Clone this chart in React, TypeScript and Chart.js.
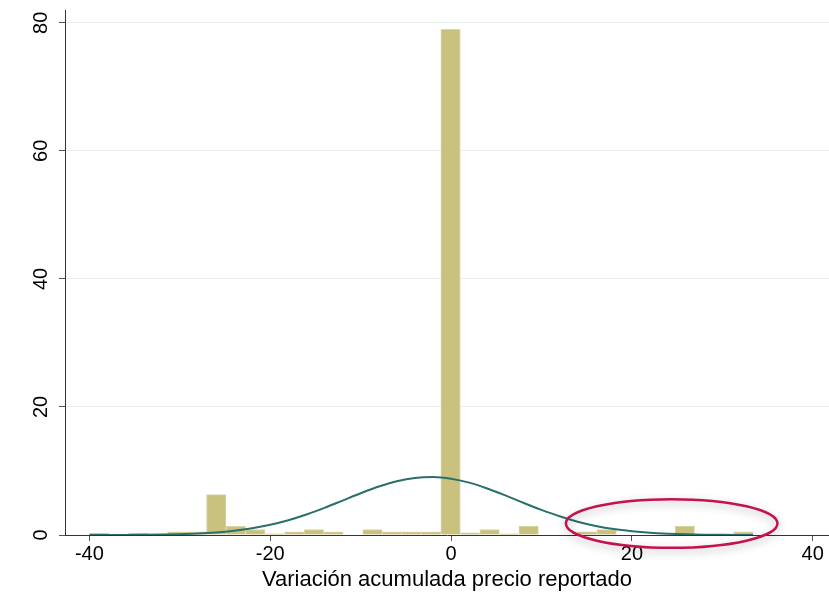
import React, { useEffect, useRef } from "react";
import { Chart, registerables } from "chart.js";

Chart.register(...registerables);

// Histogram bins (width ≈ 2.159, starting at -40): bin centres and percent heights
const binCenters = [
  -38.92, -36.76, -34.6, -32.44, -30.28, -28.12, -25.97, -23.81, -21.65, -19.49,
  -17.33, -15.17, -13.01, -10.85, -8.69, -6.53, -4.38, -2.22, -0.06, 2.1,
  4.26, 6.42, 8.58, 10.74, 12.9, 15.06, 17.21, 19.37, 21.53, 23.69,
  25.85, 28.01, 30.17, 32.33,
];
const binPercent = [
  0.3, 0, 0.3, 0, 0.5, 0.5, 6.3, 1.35, 0.85, 0.2,
  0.5, 0.85, 0.5, 0, 0.85, 0.5, 0.5, 0.5, 79, 0.35,
  0.85, 0.2, 1.4, 0, 0, 0.5, 0.85, 0, 0, 0,
  1.4, 0, 0, 0.5,
];

// Normal-density overlay
const curveX = [
  -40, -38, -36, -34, -32, -30, -28, -26, -24, -22, -20, -18, -16, -14, -12, -10,
  -8, -6, -4, -2, 0, 2, 4, 6, 8, 10, 12, 14, 16, 18, 20, 22, 24, 26, 28, 30, 32, 33.4,
];
const curveY = [
  0.003, 0.008, 0.017, 0.035, 0.068, 0.13, 0.23, 0.4, 0.67, 1.06, 1.6, 2.31, 3.2, 4.24,
  5.38, 6.52, 7.57, 8.4, 8.92, 9.06, 8.8, 8.18, 7.27, 6.19, 5.03, 3.92, 2.92, 2.08,
  1.42, 0.92, 0.58, 0.34, 0.2, 0.11, 0.056, 0.028, 0.013, 0.008,
];

const xTicks = [-40, -20, 0, 20, 40];
const yTicks = [0, 20, 40, 60, 80];
const xTitle = "Variación acumulada precio reportado";

// Highlight ellipse (data units): centre x, centre y, radius x, radius y
const highlightEllipse = [24.4, 1.8, 11.7, 3.8];

const FONT = "'Liberation Sans', Arial, Helvetica, sans-serif";

export default function App() {
  const ref = useRef<HTMLCanvasElement>(null);

  useEffect(() => {
    if (!ref.current) return;
    const ellipsePlugin = {
      id: "highlightEllipse",
      afterDraw(chart: any) {
        const { ctx } = chart;
        const x = chart.scales.x;
        const y = chart.scales.y;
        const [ecx, ecy, erx, ery] = highlightEllipse;
        const cx = x.getPixelForValue(ecx);
        const cy = y.getPixelForValue(ecy);
        const rx = Math.abs(x.getPixelForValue(ecx + erx) - cx);
        const ry = Math.abs(y.getPixelForValue(ecy + ery) - cy);
        ctx.save();
        ctx.shadowColor = "rgba(0,0,0,0.3)";
        ctx.shadowBlur = 8;
        ctx.shadowOffsetY = 3;
        ctx.strokeStyle = "#c4124f";
        ctx.lineWidth = 2.5;
        ctx.beginPath();
        ctx.ellipse(cx, cy, rx, ry, 0, 0, Math.PI * 2);
        ctx.stroke();
        ctx.restore();
      },
    };

    const chart = new Chart(ref.current, {
      data: {
        datasets: [
          {
            type: "line",
            data: curveX.map((x, i) => ({ x, y: curveY[i] })),
            borderColor: "#2b6f6b",
            borderWidth: 2,
            pointRadius: 0,
            cubicInterpolationMode: "monotone",
            order: 0,
          } as any,
          {
            type: "bar",
            data: binCenters.map((x, i) => ({ x, y: binPercent[i] })),
            backgroundColor: "#c9c27f",
            borderColor: "#dbd6a6",
            borderWidth: 1,
            barPercentage: 1,
            categoryPercentage: 1,
            order: 1,
          } as any,
        ],
      },
      plugins: [ellipsePlugin],
      options: {
        responsive: false,
        animation: false,
        devicePixelRatio: 1,
        layout: { padding: { top: 10, left: 0, right: 0, bottom: 0 } },
        plugins: { legend: { display: false }, tooltip: { enabled: false } },
        scales: {
          x: {
            type: "linear",
            min: -42.7,
            max: 41.8,
            offset: false,
            afterBuildTicks: (s: any) => {
              s.ticks = xTicks.map((v) => ({ value: v }));
            },
            afterFit: (s: any) => {
              s.height = 58;
              s.paddingLeft = 0;
              s.paddingRight = 0;
            },
            grid: {
              offset: false,
              drawOnChartArea: false,
              drawTicks: true,
              tickLength: 6,
              tickColor: "#555",
              color: "#555",
            },
            border: { color: "#333", width: 1 },
            ticks: {
              color: "#000",
              font: { family: FONT, size: 20 },
              padding: 1,
              maxRotation: 0,
              minRotation: 0,
            },
            title: {
              display: true,
              text: xTitle,
              color: "#000",
              font: { family: FONT, size: 22 },
              padding: { top: 0, bottom: 0 },
            },
          },
          y: {
            type: "linear",
            min: 0,
            max: 82,
            afterBuildTicks: (s: any) => {
              s.ticks = yTicks.map((v) => ({ value: v }));
            },
            afterFit: (s: any) => {
              s.width = 65;
              s.paddingTop = 0;
              s.paddingBottom = 0;
            },
            grid: {
              color: (c: any) => (c.tick && c.tick.value === 0 ? "rgba(0,0,0,0)" : "#e8f0f2"),
              tickColor: "#555",
              tickLength: 6,
              lineWidth: 1,
            },
            border: { color: "#333", width: 1 },
            ticks: {
              color: "#000",
              font: { family: FONT, size: 20 },
              padding: 6,
              minRotation: 90,
              maxRotation: 90,
              crossAlign: "center",
            },
          },
        },
      } as any,
    });
    return () => chart.destroy();
  }, []);

  return (
    <div style={{ position: "fixed", left: 0, top: 0, width: 829, height: 593, background: "#fff" }}>
      <canvas ref={ref} width={829} height={593} style={{ width: 829, height: 593, display: "block" }} />
    </div>
  );
}
